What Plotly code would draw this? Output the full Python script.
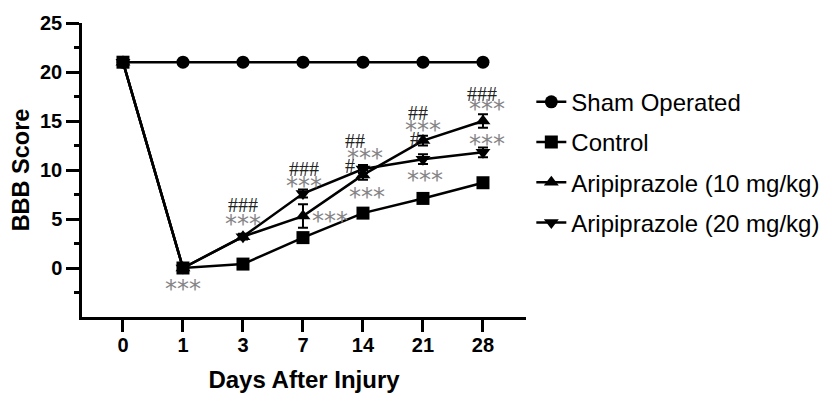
import plotly.graph_objects as go

days = ["0", "1", "3", "7", "14", "21", "28"]
sham = [21, 21, 21, 21, 21, 21, 21]
control = [21, 0, 0.4, 3.1, 5.6, 7.1, 8.7]
ari10 = [21, 0, 3.2, 5.3, 9.5, 13.0, 15.0]
ari10_err = [0, 0, 0.3, 1.2, 0.5, 0.5, 0.7]
ari20 = [21, 0, 3.2, 7.6, 10.1, 11.1, 11.8]
ari20_err = [0, 0, 0.2, 0.4, 0.4, 0.5, 0.5]

# significance labels: (text, x index, y value, kind)
sig_labels = [
    ("***", 1.0, -1.8, "star"),
    ("###", 2.0, 6.4, "hash"),
    ("***", 2.0, 4.8, "star"),
    ("###", 3.02, 10.1, "hash"),
    ("***", 3.02, 8.7, "star"),
    ("***", 3.45, 5.1, "star"),
    ("##", 3.87, 13.0, "hash"),
    ("***", 4.04, 11.5, "star"),
    ("#", 3.79, 10.4, "hash"),
    ("***", 4.07, 7.6, "star"),
    ("##", 4.92, 15.8, "hash"),
    ("***", 5.0, 14.4, "star"),
    ("#", 4.86, 13.2, "hash"),
    ("***", 5.04, 9.3, "star"),
    ("###", 5.98, 17.8, "hash"),
    ("***", 6.06, 16.5, "star"),
    ("***", 6.06, 13.0, "star"),
]

xi = list(range(len(days)))
LW = 2.5
MS = 13

fig = go.Figure()


def add(name, y, symbol, rank, err=None):
    kw = {}
    if err is not None:
        kw["error_y"] = dict(type="data", array=err, visible=True,
                             color="black", thickness=2, width=5)
    fig.add_trace(go.Scatter(
        x=xi, y=y, name=name, mode="lines+markers",
        line=dict(color="black", width=LW),
        marker=dict(symbol=symbol, size=MS, color="black"),
        legendrank=rank, legendgroup=name, **kw))


add("Aripiprazole (20 mg/kg)", ari20, "triangle-down", 4, ari20_err)
add("Aripiprazole (10 mg/kg)", ari10, "triangle-up", 3, ari10_err)
add("Sham Operated", sham, "circle", 1)
add("Control", control, "square", 2)

for txt, x, y, kind in sig_labels:
    if kind == "star":
        fig.add_annotation(x=x, y=y, text=txt, showarrow=False,
                           font=dict(family="DejaVu Sans", size=24, color="#858585"),
                           yshift=-3)
    else:
        fig.add_annotation(x=x, y=y, text=txt, showarrow=False,
                           font=dict(family="Liberation Serif", size=20, color="#222222"))

# page body has an 8px margin; figure is sized so it fits in the window
W, H = 813, 385
L, T = 73.7, 14.7
PW, PH = 444, 294.6
fig.update_layout(
    width=W, height=H,
    margin=dict(l=L, r=W - L - PW, t=T, b=H - T - PH, pad=0, autoexpand=False),
    paper_bgcolor="white", plot_bgcolor="white",
    font=dict(family="Liberation Sans, Arial", color="black"),
    showlegend=True,
    legend=dict(x=1.012, y=0.807, xanchor="left", yanchor="top",
                font=dict(size=24, family="Liberation Sans, Arial"),
                tracegroupgap=6, bgcolor="rgba(0,0,0,0)",
                itemwidth=30),
    xaxis=dict(
        range=[-0.683, 6.717], tickmode="array", tickvals=xi, ticktext=days,
        showline=True, linecolor="black", linewidth=LW, automargin=False,
        ticks="outside", ticklen=12, tickwidth=LW, tickcolor="black",
        ticklabelstandoff=-4,
        showgrid=False, zeroline=False,
        tickfont=dict(size=20, family="Liberation Sans, Arial", weight="bold"),
        title=dict(text="<b>Days After Injury</b>", standoff=24,
                   font=dict(size=24, family="Liberation Sans, Arial")),
    ),
    yaxis=dict(
        range=[-5, 25], tickmode="array", tickvals=[0, 5, 10, 15, 20, 25],
        showline=True, linecolor="black", linewidth=LW, automargin=False,
        ticks="outside", ticklen=13, tickwidth=LW, tickcolor="black",
        showgrid=False, zeroline=False,
        minor=dict(tickmode="array", tickvals=[-2.5, 2.5, 7.5, 12.5, 17.5, 22.5],
                   ticks="outside", ticklen=5, tickwidth=LW, tickcolor="black",
                   showgrid=False),
        tickfont=dict(size=20, family="Liberation Sans, Arial", weight="bold"),
        title=dict(text="<b>BBB Score</b>", standoff=8,
                   font=dict(size=23.5, family="Liberation Sans, Arial")),
    ),
)

fig.write_html("out.html")
